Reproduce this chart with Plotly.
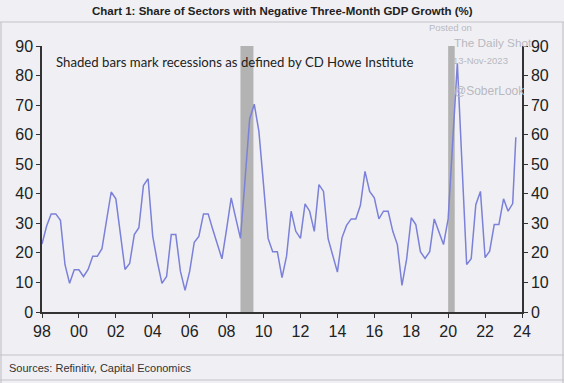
import pandas as pd
import plotly.graph_objects as go

# Quarterly share of sectors with negative 3m GDP growth (%), 1998Q1 .. 2023Q2 (+ latest)
values = [
    23, 29, 33.2, 33.2,      # 1998
    31, 16, 9.7, 14.3,       # 1999
    14.3, 12, 14.4, 18.9,    # 2000
    18.9, 21.4, 31, 40.6,    # 2001
    38.3, 26, 14.4, 16.4,    # 2002
    26.2, 28.5, 42.8, 45.1,  # 2003
    25.6, 17, 9.7, 12,       # 2004
    26.2, 26.2, 13.8, 7.3,   # 2005
    13.8, 23.6, 25.6, 33.2,  # 2006
    33.2, 28, 23, 18,        # 2007
    28, 38.6, 31.7, 24.9,    # 2008
    45, 65.3, 70.3, 61.1,    # 2009
    43, 24.9, 20.4, 20.4,    # 2010
    11.6, 18.9, 34.1, 27.3,  # 2011
    24.9, 36.6, 34.1, 27.3,  # 2012
    43.1, 40.8, 24.8, 19,    # 2013
    13.5, 25.1, 29.3, 31.5,  # 2014
    31.5, 36.1, 47.6, 40.8,  # 2015
    38.6, 31.5, 34.1, 34.1,  # 2016
    27.3, 22.8, 9, 17.8,     # 2017
    31.9, 29.6, 20.4, 18.1,  # 2018
    20.4, 31.5, 27.3, 22.8,  # 2019
    31.5, 58, 84.2, 50,      # 2020
    16.1, 18, 36.3, 40.8,    # 2021
    18.4, 20.6, 29.6, 29.6,  # 2022
    38.3, 34.1, 36.7, 59.1,  # 2023
]
dates = list(pd.date_range("1998-01-01", periods=len(values) - 1, freq="QS").strftime("%Y-%m-%d")) + ["2023-09-01"]

recession_starts = ["2008-10-01", "2020-01-01"]
recession_ends = ["2009-06-15", "2020-05-10"]

y_ticks = [0, 10, 20, 30, 40, 50, 60, 70, 80, 90]
x_tick_years = list(range(1998, 2025, 2))
x_tick_vals = [f"{y}-01-01" for y in x_tick_years]
x_tick_text = [f"{y % 100:02d}" for y in x_tick_years]

title_text = "Chart 1: Share of Sectors with Negative Three-Month GDP Growth (%)"
note_text = "Shaded bars mark recessions as defined by CD Howe Institute"
source_text = "Sources: Refinitiv, Capital Economics"

BG = "#f0f0f4"
AXIS = "#333333"
FONT = "Arial, Liberation Sans, sans-serif"
WM = "#b8b8c0"

# plot area in figure pixels
L, T, W, H = 42, 46, 480, 266


def px(xp, yp):
    return (xp - L) / W, 1 - (yp - T) / H


fig = go.Figure()
fig.add_trace(go.Scatter(x=dates, y=values, mode="lines",
                         line=dict(color="#7b80d8", width=1.5),
                         hoverinfo="skip", showlegend=False))
fig.add_trace(go.Scatter(x=dates, y=values, yaxis="y2", mode="lines",
                         line=dict(width=0), opacity=0, hoverinfo="skip",
                         showlegend=False))

shapes = []
for s, e in zip(recession_starts, recession_ends):
    shapes.append(dict(type="rect", xref="x", yref="y", x0=s, x1=e, y0=0, y1=90,
                       fillcolor="#b3b3b3", line=dict(width=0), layer="below"))


def px_line(x0, y0, x1, y1, color="#c4c4c8", width=1.2):
    a0, b0 = px(x0, y0)
    a1, b1 = px(x1, y1)
    return dict(type="line", xref="paper", yref="paper",
                x0=a0, x1=a1, y0=b0, y1=b1, line=dict(color=color, width=width))


shapes += [
    px_line(0, 22, 564, 22),
    px_line(0, 355, 564, 355),
    px_line(0, 380, 564, 380),
    px_line(1, 22, 1, 383),
    px_line(563, 22, 563, 383),
]


def ann(text, xp, yp, size, anchor="left", family=FONT, color="#222222"):
    x, y = px(xp, yp)
    return dict(text=text, xref="paper", yref="paper", x=x, y=y,
                xanchor=anchor, yanchor="middle", showarrow=False,
                font=dict(family=family, size=size, color=color))


annotations = [
    ann(f"<b>{title_text}</b>", 282, 11, 11.5, anchor="center"),
    ann(note_text, 54, 62, 13.2, family="Lato, sans-serif"),
    ann(source_text, 7, 368, 11, color="#333333"),
    ann("Posted on", 427, 27.5, 9.5, color=WM),
    ann("The Daily Shot", 452, 43, 11.8, color=WM),
    ann("13-Nov-2023", 451, 61, 9.5, color=WM),
    ann("@SoberLook", 452, 91, 12, color=WM),
]

axis_common = dict(range=[0, 90], tickvals=y_ticks, showgrid=False, zeroline=False,
                   showline=True, linecolor=AXIS, linewidth=1.5,
                   ticks="outside", ticklen=4, tickcolor=AXIS, tickwidth=1.2,
                   tickfont=dict(family=FONT, size=16, color="#222222"))

fig.update_layout(
    width=564, height=383,
    margin=dict(l=L, r=564 - L - W, t=T, b=383 - T - H),
    paper_bgcolor=BG, plot_bgcolor=BG,
    showlegend=False,
    xaxis=dict(range=["1998-01-01", "2024-01-01"], tickvals=x_tick_vals, ticktext=x_tick_text,
               showgrid=False, zeroline=False, showline=True, linecolor=AXIS, linewidth=1.5,
               ticks="outside", ticklen=4, tickcolor=AXIS, tickwidth=1.2,
               tickfont=dict(family=FONT, size=16, color="#222222")),
    yaxis=dict(**axis_common, side="left"),
    yaxis2=dict(**axis_common, side="right", overlaying="y"),
    shapes=shapes,
    annotations=annotations,
)

fig.write_html("out.html", config={"displayModeBar": False},
               post_script="document.body.style.margin='0';document.body.style.background='#f0f0f4';")
